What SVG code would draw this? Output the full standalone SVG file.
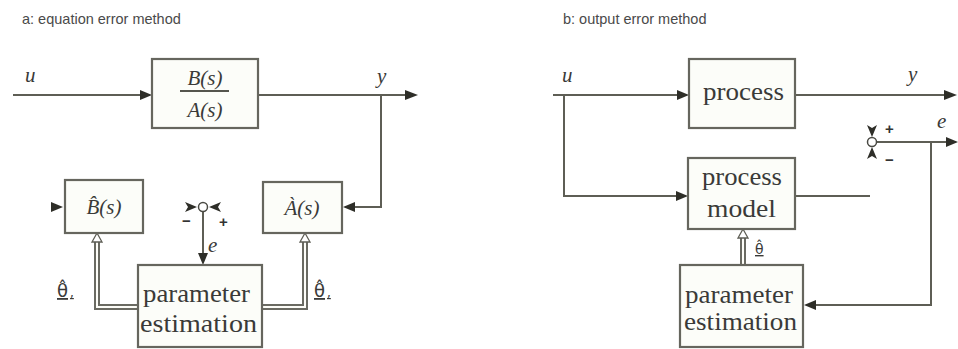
<svg xmlns="http://www.w3.org/2000/svg" width="958" height="349" viewBox="0 0 958 349">
<defs>
<style>
.ln{fill:none;stroke:#5e5e55;stroke-width:2}
.box{fill:#fcfdf9;stroke:#66665e;stroke-width:2.2}
.dbl{fill:none;stroke:#6a6a62;stroke-width:6}
.dbi{fill:none;stroke:#fdfdf8;stroke-width:2}
.ah{fill:#2e2e28}
.ho{fill:#fff;stroke:#5e5e55;stroke-width:1.3}
.ttl{font-family:"Liberation Sans",Arial,sans-serif;font-size:14.5px;fill:#4a4a4a}
.mth{font-family:"Liberation Serif","Times New Roman",serif;font-style:italic;font-size:21px;fill:#3a3a38}
.th{font-family:"DejaVu Sans","Noto Sans",sans-serif;font-size:18px;fill:#3a3a38;text-decoration:underline}
.blk{font-family:"Liberation Serif","Times New Roman",serif;font-size:25px;fill:#3a3a38}
.sg{font-family:"Liberation Sans",Arial,sans-serif;font-size:15px;fill:#333;font-weight:bold}
</style>
</defs>
<rect width="958" height="349" fill="#ffffff"/>
<text class="ttl" x="22" y="24">a: equation error method</text>
<text class="ttl" x="563" y="24">b: output error method</text>

<g id="connectors">
  <line class="ln" x1="13" y1="95" x2="142" y2="95"/>
  <polygon class="ah" points="152,95 140,90 140,100"/>
  <line class="ln" x1="258" y1="95" x2="408" y2="95"/>
  <polygon class="ah" points="418,95 405,90 405,100"/>
  <polyline class="ln" points="381,95 381,207 353,207"/>
  <polygon class="ah" points="343,207 355,202 355,212"/>
  <polygon class="ah" points="63,207 51,202 51,212"/>
  <polygon class="ah" points="197,207 185,202 188,207 185,212"/>
  <polygon class="ah" points="209,207 221,202 218,207 221,212"/>
  <line class="ln" x1="203" y1="211" x2="203" y2="254"/>
  <polygon class="ah" points="203,265 198,253 208,253"/>
  <polyline class="dbl" points="138,307 97,307 97,241"/>
  <polyline class="dbi" points="138,307 97,307 97,241"/>
  <polygon class="ho" points="97,233 92,242 102,242"/>
  <polyline class="dbl" points="262,307 305,307 305,241"/>
  <polyline class="dbi" points="262,307 305,307 305,241"/>
  <polygon class="ho" points="305,233 300,242 310,242"/>
  <line class="ln" x1="553" y1="95" x2="678" y2="95"/>
  <polygon class="ah" points="689,95 677,90 677,100"/>
  <line class="ln" x1="795" y1="95" x2="946" y2="95"/>
  <polygon class="ah" points="957,95 944,90 944,100"/>
  <polyline class="ln" points="564,95 564,196 677,196"/>
  <polygon class="ah" points="688,196 676,191 676,201"/>
  <line class="ln" x1="795" y1="196" x2="870" y2="196"/>
  <polygon class="ah" points="872,137 867,125 872,128 877,125"/>
  <polygon class="ah" points="872,147 867,159 872,156 877,159"/>
  <line class="ln" x1="876" y1="142" x2="947" y2="142"/>
  <polygon class="ah" points="958,142 946,137 946,147"/>
  <polyline class="ln" points="931,142 931,305 815,305"/>
  <polygon class="ah" points="804,305 816,300 816,310"/>
  <line class="dbl" x1="743" y1="265" x2="743" y2="237"/>
  <line class="dbi" x1="743" y1="265" x2="743" y2="237"/>
  <polygon class="ho" points="743,229 738,238 748,238"/>
</g>

<g id="sum-a">
  <circle cx="203" cy="207" r="4.5" fill="#fff" stroke="#4a4a44" stroke-width="1.5"/>
  <text class="sg" x="182" y="226">−</text>
  <text class="sg" x="219" y="227">+</text>
  <text class="mth" x="208" y="252">e</text>
</g>
<g id="sum-b">
  <circle cx="872" cy="142" r="4.5" fill="#fff" stroke="#4a4a44" stroke-width="1.5"/>
  <text class="sg" x="885" y="134">+</text>
  <text class="sg" x="885" y="165">−</text>
  <text class="mth" x="937" y="128">e</text>
</g>

<g id="labels">
  <text class="mth" x="25" y="82">u</text>
  <text class="mth" x="377" y="83">y</text>
  <text class="mth" x="562" y="82">u</text>
  <text class="mth" x="908" y="81">y</text>
  <text class="th" x="57" y="297">θ̂<tspan style="font-size:12px;text-decoration:none" dx="2">,</tspan></text>
  <text class="th" x="314" y="297">θ̂<tspan style="font-size:12px;text-decoration:none" dx="2">,</tspan></text>
  <text class="th" x="755" y="254" style="font-size:14px">θ̂</text>
</g>

<g id="BA">
  <rect class="box" x="152" y="59" width="106" height="69"/>
  <text class="mth" x="205" y="85" text-anchor="middle">B(s)</text>
  <line x1="180" y1="91" x2="229" y2="91" stroke="#55554e" stroke-width="2"/>
  <text class="mth" x="205" y="117" text-anchor="middle">A(s)</text>
</g>
<g id="Bhat">
  <rect class="box" x="65" y="180" width="78" height="53"/>
  <text class="mth" x="104" y="214" text-anchor="middle">B̂(s)</text>
</g>
<g id="Ahat">
  <rect class="box" x="263" y="182" width="79" height="51"/>
  <text class="mth" x="302" y="215" text-anchor="middle">À(s)</text>
</g>
<g id="param-a">
  <rect class="box" x="138" y="265" width="124" height="82"/>
  <text class="blk" x="143" y="302" textLength="107" lengthAdjust="spacingAndGlyphs">parameter</text>
  <text class="blk" x="140" y="332" textLength="117" lengthAdjust="spacingAndGlyphs">estimation</text>
</g>
<g id="process">
  <rect class="box" x="689" y="59" width="106" height="69"/>
  <text class="blk" x="703" y="100" textLength="81" lengthAdjust="spacingAndGlyphs">process</text>
</g>
<g id="model">
  <rect class="box" x="688" y="158" width="107" height="71"/>
  <text class="blk" x="702" y="185" textLength="80" lengthAdjust="spacingAndGlyphs">process</text>
  <text class="blk" x="707" y="217" textLength="69" lengthAdjust="spacingAndGlyphs">model</text>
</g>
<g id="param-b">
  <rect class="box" x="680" y="265" width="123" height="82"/>
  <text class="blk" x="685" y="303" textLength="108" lengthAdjust="spacingAndGlyphs">parameter</text>
  <text class="blk" x="684" y="330" textLength="113" lengthAdjust="spacingAndGlyphs">estimation</text>
</g>
</svg>
